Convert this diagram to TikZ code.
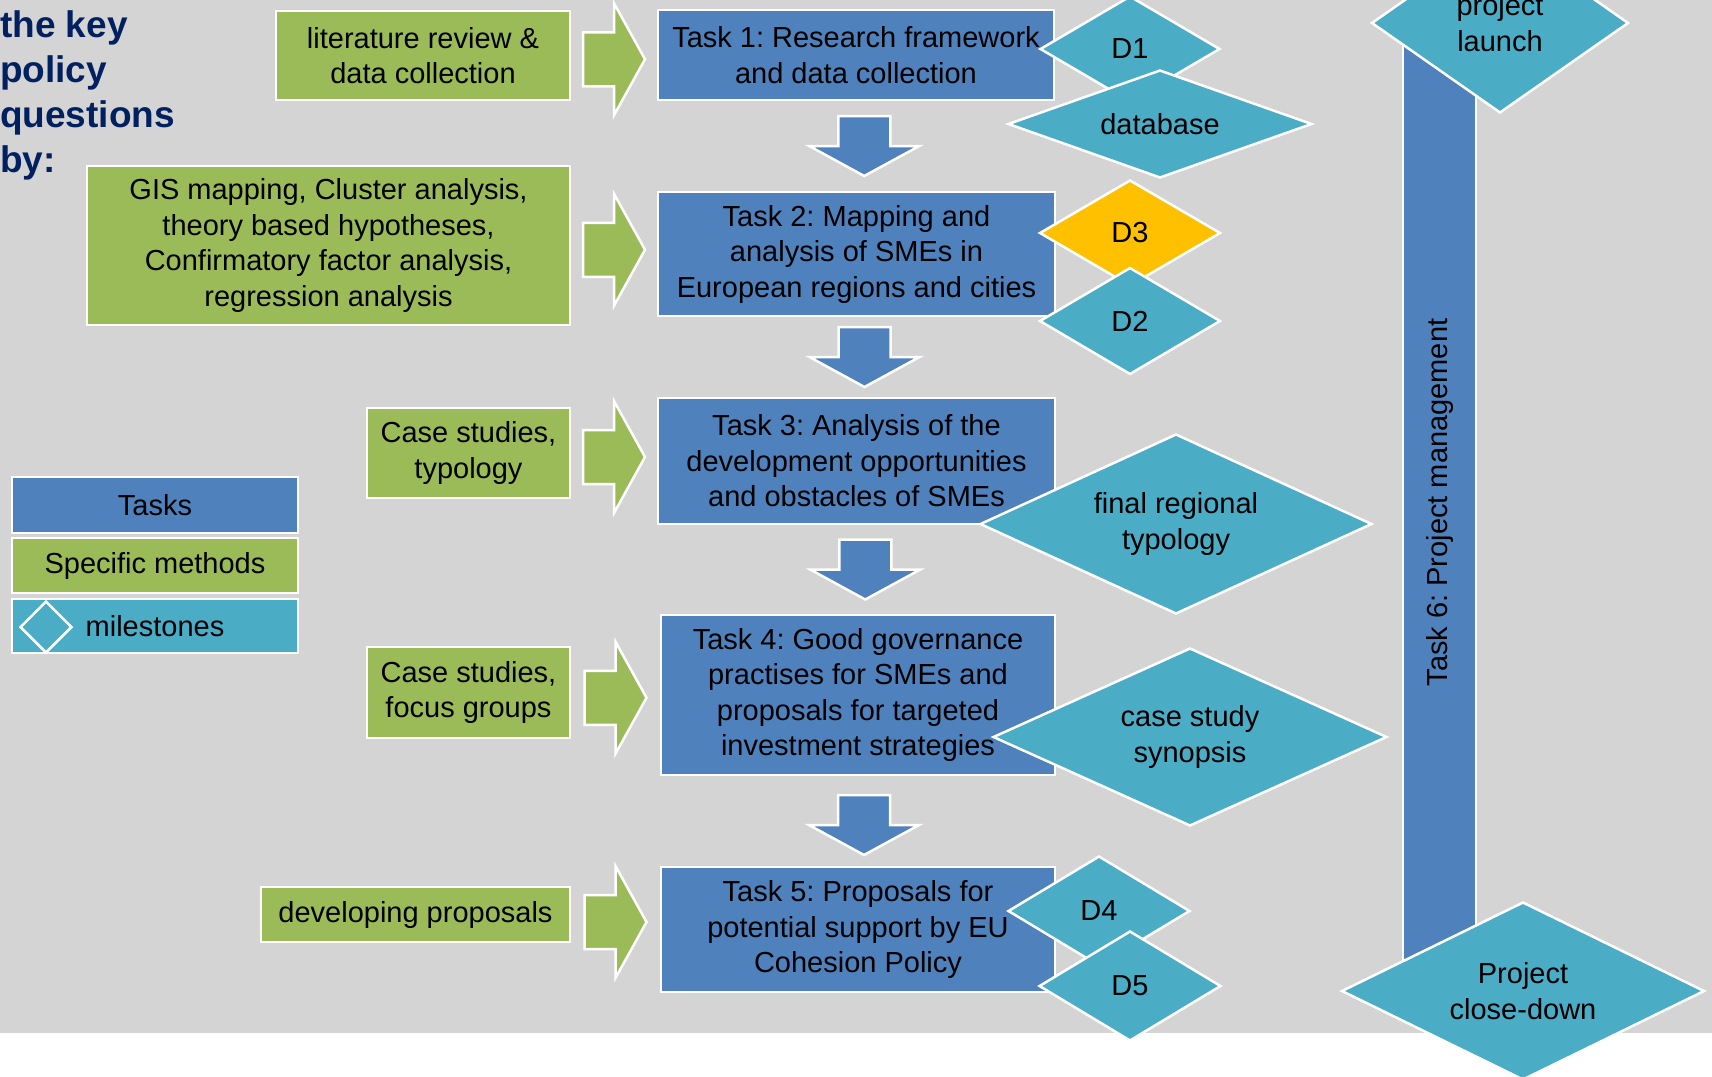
\documentclass[tikz,border=0pt]{standalone}
\usepackage{fontspec}
\setmainfont{Liberation Sans}
\usetikzlibrary{shapes.geometric,calc}
\frenchspacing
\definecolor{bggray}{RGB}{212,212,212}
\definecolor{taskblue}{RGB}{79,129,189}
\definecolor{methgreen}{RGB}{155,187,89}
\definecolor{mileteal}{RGB}{75,172,198}
\definecolor{mileorange}{RGB}{255,192,0}
\definecolor{titlenavy}{RGB}{0,32,96}
\tikzset{
  every node/.style={font=\fontsize{29}{35.5}\selectfont, align=center, text=black},
  task/.style={draw=white, line width=2.5pt, fill=taskblue, inner sep=0pt},
  method/.style={draw=white, line width=2.5pt, fill=methgreen, inner sep=0pt},
  legendbox/.style={draw=white, line width=2.5pt, fill=mileteal, inner sep=0pt},
  milestone/.style={diamond, draw=white, line width=2.5pt, fill=mileteal, inner sep=0pt, shape aspect=1.7},
  rblock/.pic={\draw[white, line width=2.5pt, fill=methgreen]
    (-31,-27) -- (0,-27) -- (0,-56) -- (31,0) -- (0,56) -- (0,27) -- (-31,27) -- cycle;},
  dblock/.pic={\draw[white, line width=2.5pt, fill=taskblue]
    (-26,-30) -- (26,-30) -- (26,0) -- (55,0) -- (0,30) -- (-55,0) -- (-26,0) -- cycle;}
}
\begin{document}
\begin{tikzpicture}[x=1pt, y=-1pt]
      \clip (0,0) rectangle (1712,1076);
      \fill[bggray] (0,0) rectangle (1712,1033);
      \node[anchor=north west, inner sep=0pt, align=left, text=titlenavy,
        font=\fontsize{37}{45}\selectfont\bfseries] (title) at (0,10)
        {the key\\policy\\questions\\by:};
      \draw
        (423,55.5) node[method, minimum width=294, minimum height=89] (m1){literature review \&\\data collection}
        (328.5,245.5) node[method, minimum width=483, minimum height=159] (m2){GIS mapping, Cluster analysis,\\theory based hypotheses,\\Confirmatory factor analysis,\\regression analysis}
        (468.5,453) node[method, minimum width=203, minimum height=90] (m3){Case studies,\\typology}
        (468.5,692.5) node[method, minimum width=203, minimum height=91] (m4){Case studies,\\focus groups}
        (415.5,914.5) node[method, minimum width=309, minimum height=55] (m5){developing proposals};
      \draw
        (1439.5,502.5) node[task, rotate=90, minimum width=925, minimum height=73] (t6){Task 6: Project management}
        (856,55) node[task, minimum width=396, minimum height=90] (t1){Task 1: Research framework\\and data collection}
        (856.5,254) node[task, minimum width=397, minimum height=124] (t2){Task 2: Mapping and\\analysis of SMEs in\\European regions and cities}
        (856.5,461) node[task, minimum width=397, minimum height=126] (t3){Task 3: Analysis of the\\development opportunities\\and obstacles of SMEs}
        (858,695) node[task, minimum width=394, minimum height=160] (t4){Task 4: Good governance\\practises for SMEs and\\proposals for targeted\\investment strategies}
        (858,929.5) node[task, minimum width=394, minimum height=125] (t5){Task 5: Proposals for\\potential support by EU\\Cohesion Policy};
      \begin{scope}
        \pic at ($(m1.east)!0.5!(t1.west)+(0,4)$) {rblock};
        \pic at ($(m2.east)!0.5!(t2.west)$) {rblock};
        \pic at ($(m3.east)!0.5!(t3.west)$) {rblock};
        \pic at ($(m4.east)!0.5!(t4.west)+(0,4)$) {rblock};
        \pic at ($(m5.east)!0.5!(t5.west)$) {rblock};
        \pic at ($(t1.south)!0.5!(t2.north)+(8,0)$) {dblock};
        \pic at ($(t2.south)!0.5!(t3.north)+(8,0)$) {dblock};
        \pic at ($(t3.south)!0.5!(t4.north)+(8,0)$) {dblock};
        \pic at ($(t4.south)!0.5!(t5.north)+(6,4)$) {dblock};
      \end{scope}
      \draw
        (1130,49) node[milestone, minimum width=180, minimum height=106] (d1){D1}
        (1160,124) node[milestone, minimum width=304, minimum height=108] (db){database}
        (1130,233) node[milestone, fill=mileorange, minimum width=181, minimum height=106] (d3){D3}
        (1130,321) node[milestone, minimum width=181, minimum height=107] (d2){D2}
        (1176,524) node[milestone, minimum width=392, minimum height=180] (typ){final regional\\typology}
        (1190,737) node[milestone, minimum width=394, minimum height=178] (syn){case study\\synopsis}
        (1099,911) node[milestone, minimum width=182, minimum height=110] (d4){D4}
        (1130,986) node[milestone, minimum width=182, minimum height=110] (d5){D5}
        (1500,23) node[milestone, minimum width=257, minimum height=180] (launch){project\\launch}
        (1523,991) node[milestone, minimum width=363, minimum height=178] (close){Project\\close-down};
      \draw
        (155,505) node[task, minimum width=286, minimum height=56] (lt){Tasks}
        (155,565.5) node[method, minimum width=286, minimum height=55] (lm){Specific methods}
        (155,626) node[legendbox, minimum width=286, minimum height=54] (lms){milestones}
        (46,627) node[milestone, shape aspect=1, minimum width=52, minimum height=52] (lmd){};
    \end{tikzpicture}
\end{document}
